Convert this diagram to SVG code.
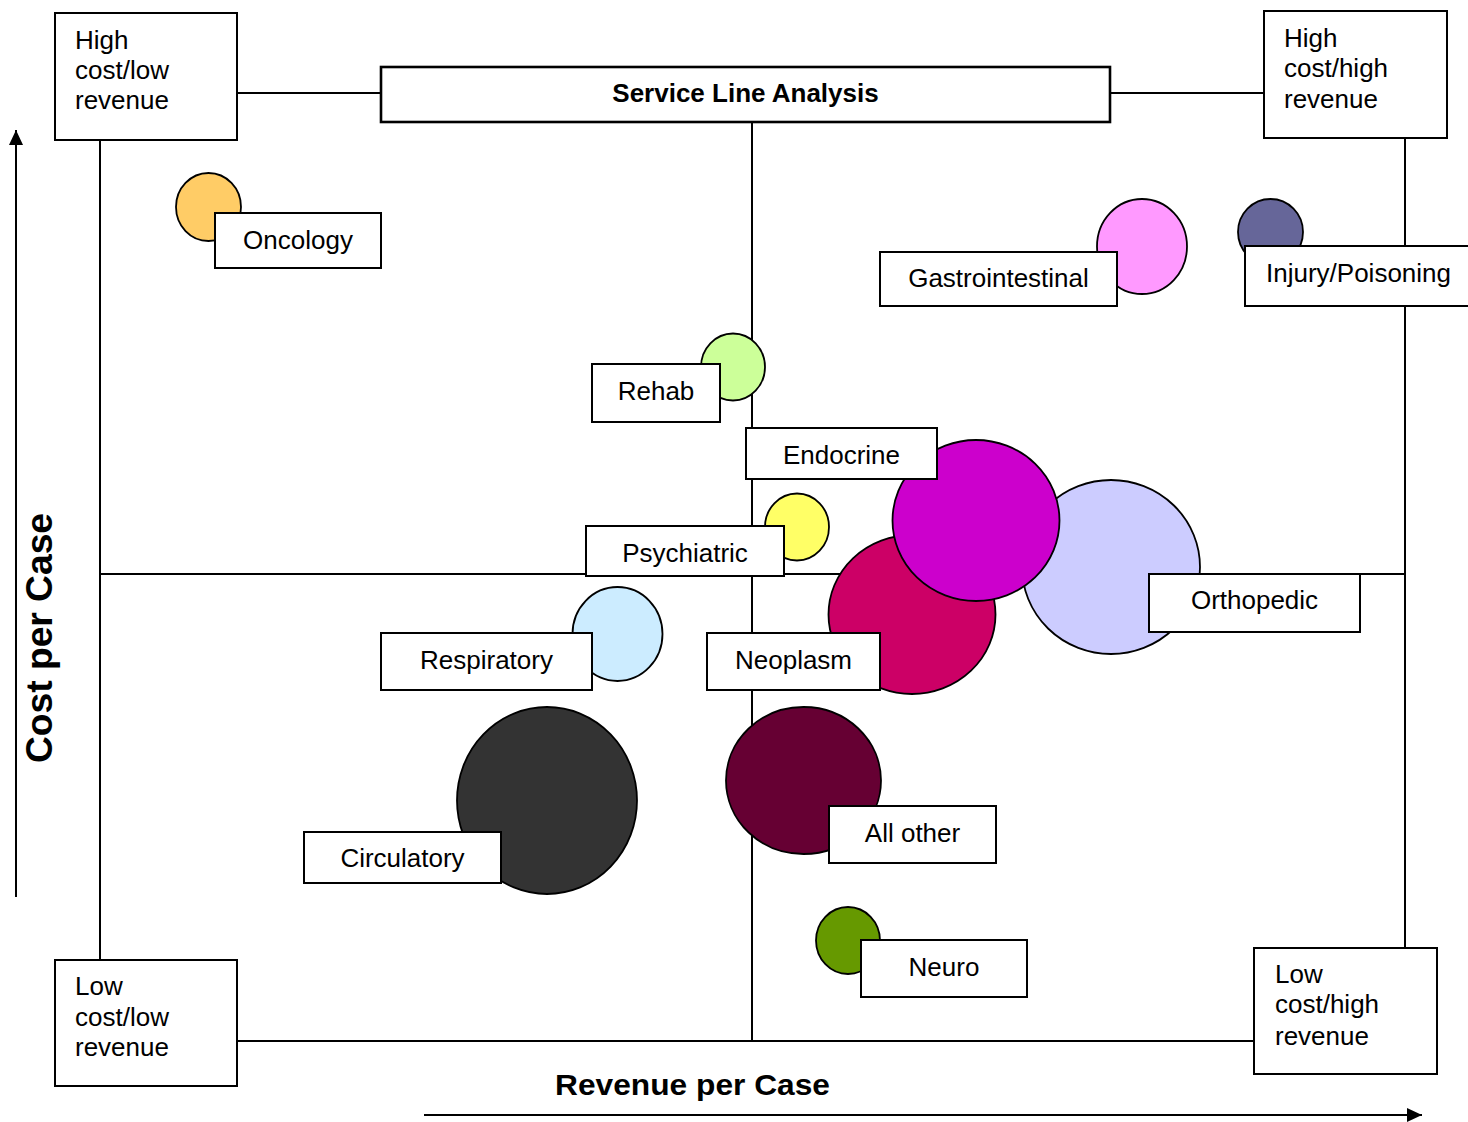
<svg xmlns="http://www.w3.org/2000/svg" width="1468" height="1122" viewBox="0 0 1468 1122">
<style>
.ln{stroke:#000;stroke-width:2;fill:none}
.box{fill:#fff;stroke:#000;stroke-width:2}
.bub{stroke:#000;stroke-width:1.8}
.t{font-family:"Liberation Sans",Arial,sans-serif;font-size:26px;fill:#000}
.c{text-anchor:middle}
.b{font-weight:bold}
</style>
<defs>
<marker id="ah" markerWidth="16" markerHeight="16" refX="15" refY="8" orient="auto" markerUnits="userSpaceOnUse">
<path d="M0,1 L15,8 L0,15 Z" fill="#000"/>
</marker>
</defs>
<rect width="1468" height="1122" fill="#fff"/>
<g id="connectors">
<line class="ln" x1="100" y1="140" x2="100" y2="960"/>
<line class="ln" x1="1405" y1="138" x2="1405" y2="948"/>
<line class="ln" x1="237" y1="93" x2="381" y2="93"/>
<line class="ln" x1="1110" y1="93" x2="1264" y2="93"/>
<line class="ln" x1="237" y1="1041" x2="1254" y2="1041"/>
<line class="ln" x1="752" y1="123" x2="752" y2="1041"/>
<line class="ln" x1="100" y1="574" x2="1405" y2="574"/>
<line class="ln" x1="16" y1="897" x2="16" y2="130" marker-end="url(#ah)"/>
<line class="ln" x1="424" y1="1115" x2="1422" y2="1115" marker-end="url(#ah)"/>
</g>
<g id="title">
<rect x="381" y="67" width="729" height="55" fill="#fff" stroke="#000" stroke-width="2.6"/>
<text class="t b c" x="745.5" y="102">Service Line Analysis</text>
</g>
<g id="q-tl">
<rect class="box" x="55" y="13" width="182" height="127"/>
<text class="t" x="75" y="49">High</text>
<text class="t" x="75" y="79">cost/low</text>
<text class="t" x="75" y="109">revenue</text>
</g>
<g id="q-tr">
<rect class="box" x="1264" y="11" width="183" height="127"/>
<text class="t" x="1284" y="47">High</text>
<text class="t" x="1284" y="77">cost/high</text>
<text class="t" x="1284" y="108">revenue</text>
</g>
<g id="q-bl">
<rect class="box" x="55" y="960" width="182" height="126"/>
<text class="t" x="75" y="995">Low</text>
<text class="t" x="75" y="1026">cost/low</text>
<text class="t" x="75" y="1056">revenue</text>
</g>
<g id="q-br">
<rect class="box" x="1254" y="948" width="183" height="126"/>
<text class="t" x="1275" y="983">Low</text>
<text class="t" x="1275" y="1013">cost/high</text>
<text class="t" x="1275" y="1045">revenue</text>
</g>
<g id="axis-y-label">
<text class="t b c" x="0" y="0" font-size="37" textLength="250" lengthAdjust="spacingAndGlyphs" transform="translate(52,638) rotate(-90)" style="font-size:37px">Cost per Case</text>
</g>
<g id="axis-x-label">
<text class="t b" x="555" y="1095" textLength="275" lengthAdjust="spacingAndGlyphs" style="font-size:30px">Revenue per Case</text>
</g>
<g id="oncology">
<ellipse class="bub" cx="208.5" cy="207" rx="32.5" ry="34" fill="#FFCC66"/>
<rect class="box" x="215" y="213" width="166" height="55"/>
<text class="t c" x="298" y="249">Oncology</text>
</g>
<g id="gastrointestinal">
<ellipse class="bub" cx="1142" cy="246.5" rx="45" ry="47.5" fill="#FF99FF"/>
<rect class="box" x="880" y="252" width="237" height="54"/>
<text class="t c" x="998.5" y="287">Gastrointestinal</text>
</g>
<g id="injury">
<ellipse class="bub" cx="1270.5" cy="232" rx="32.5" ry="33" fill="#666699"/>
<rect class="box" x="1245" y="246" width="240" height="60"/>
<text class="t" x="1266" y="282">Injury/Poisoning</text>
</g>
<g id="rehab">
<ellipse class="bub" cx="733" cy="367" rx="32" ry="33.5" fill="#CCFF99"/>
<rect class="box" x="592" y="364" width="128" height="58"/>
<text class="t c" x="656" y="400">Rehab</text>
</g>
<g id="neoplasm">
<ellipse class="bub" cx="912" cy="614.5" rx="83.5" ry="79.5" fill="#CC0066"/>
<rect class="box" x="707" y="633" width="173" height="57"/>
<text class="t c" x="793.5" y="669">Neoplasm</text>
</g>
<g id="orthopedic">
<ellipse class="bub" cx="1111" cy="567" rx="89" ry="87" fill="#CCCCFF"/>
<rect class="box" x="1149" y="574" width="211" height="58"/>
<text class="t c" x="1254.5" y="609">Orthopedic</text>
</g>
<g id="endocrine">
<ellipse class="bub" cx="976" cy="520.5" rx="83.5" ry="80.5" fill="#CC00CC"/>
<rect class="box" x="746" y="428" width="191" height="51"/>
<text class="t c" x="841.5" y="464">Endocrine</text>
</g>
<g id="psychiatric">
<ellipse class="bub" cx="797" cy="527" rx="32" ry="33.5" fill="#FFFF66"/>
<rect class="box" x="586" y="526" width="198" height="50"/>
<text class="t c" x="685" y="562">Psychiatric</text>
</g>
<g id="respiratory">
<ellipse class="bub" cx="617.5" cy="634" rx="45" ry="47" fill="#CCECFF"/>
<rect class="box" x="381" y="633" width="211" height="57"/>
<text class="t c" x="486.5" y="669">Respiratory</text>
</g>
<g id="circulatory">
<ellipse class="bub" cx="547" cy="800.5" rx="90" ry="93.5" fill="#333333"/>
<rect class="box" x="304" y="832" width="197" height="51"/>
<text class="t c" x="402.5" y="867">Circulatory</text>
</g>
<g id="all-other">
<ellipse class="bub" cx="803.5" cy="780.5" rx="77.5" ry="73.5" fill="#660033"/>
<rect class="box" x="829" y="806" width="167" height="57"/>
<text class="t c" x="912.5" y="842">All other</text>
</g>
<g id="neuro">
<ellipse class="bub" cx="848" cy="940.5" rx="32" ry="33.5" fill="#669900"/>
<rect class="box" x="861" y="940" width="166" height="57"/>
<text class="t c" x="944" y="976">Neuro</text>
</g>
</svg>
